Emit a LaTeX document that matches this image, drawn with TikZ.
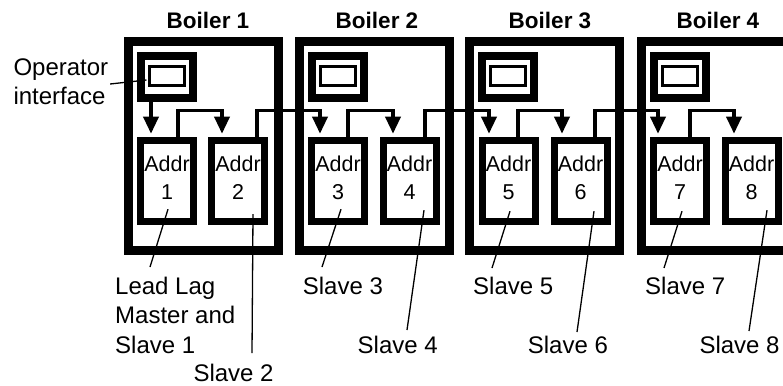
\documentclass[tikz,border=0pt]{standalone}
\usepackage{fontspec}
\setmainfont{Liberation Sans}
\usetikzlibrary{arrows.meta}
\begin{document}
\begin{tikzpicture}[x=1pt,y=-1pt,
  boiler/.style={draw, line width=9pt, minimum width=150pt, minimum height=208pt, inner sep=0pt},
  opbox/.style={draw, line width=8pt, minimum width=52pt, minimum height=42pt, inner sep=0pt},
  screen/.style={draw, line width=3pt, minimum width=35pt, minimum height=19pt, inner sep=0pt},
  addr/.style={draw, line width=7pt, minimum width=53pt, minimum height=81pt, inner sep=0pt},
  addrtxt/.style={font=\fontsize{21.5}{27.5}\selectfont, align=center, inner sep=0pt, anchor=center},
  title/.style={font=\fontsize{22.5}{27}\selectfont\bfseries, inner sep=0pt, anchor=base},
  lbl/.style={font=\fontsize{24}{29.5}\selectfont, align=left, inner sep=0pt, anchor=base west},
  conn/.style={line width=3.5pt, -{Triangle[length=17pt,width=15pt]}, shorten >=3.5pt},
  lead/.style={line width=1.3pt}
]
\useasboundingbox (0,0) rectangle (783,385);
\clip (0,0) rectangle (783,385);

% titles
\node[title] (t1) at (208,29) {Boiler 1};
\node[title] (t2) at (377,29) {Boiler 2};
\node[title] (t3) at (550,29) {Boiler 3};
\node[title] (t4) at (718,29) {Boiler 4};

% boilers
\node[boiler] (b1) at (203.5,146) {};
\node[boiler] (b2) at (374.5,146) {};
\node[boiler] (b3) at (544.5,146) {};
\node[boiler] (b4) at (716.5,146) {};

% operator boxes
\node[opbox] (o1) at (167,77) {};
\node[opbox] (o2) at (337.5,77) {};
\node[opbox] (o3) at (508,77) {};
\node[opbox] (o4) at (680,77) {};
\node[screen] (s1) at (167,76) {};
\node[screen] (s2) at (337.5,76) {};
\node[screen] (s3) at (508,76) {};
\node[screen] (s4) at (680,76) {};

% address boxes
\node[addr] (a1) at (167,181.2) {};
\node[addr] (a2) at (238,181.2) {};
\node[addr] (a3) at (338,181.2) {};
\node[addr] (a4) at (409.5,181.2) {};
\node[addr] (a5) at (508.5,181.2) {};
\node[addr] (a6) at (580.5,181.2) {};
\node[addr] (a7) at (680,181.2) {};
\node[addr] (a8) at (751.5,181.2) {};
\node[addrtxt] (n1) at ([yshift=3.6pt]a1.center) {Addr\\1};
\node[addrtxt] (n2) at ([yshift=3.6pt]a2.center) {Addr\\2};
\node[addrtxt] (n3) at ([yshift=3.6pt]a3.center) {Addr\\3};
\node[addrtxt] (n4) at ([yshift=3.6pt]a4.center) {Addr\\4};
\node[addrtxt] (n5) at ([yshift=3.6pt]a5.center) {Addr\\5};
\node[addrtxt] (n6) at ([yshift=3.6pt]a6.center) {Addr\\6};
\node[addrtxt] (n7) at ([yshift=3.6pt]a7.center) {Addr\\7};
\node[addrtxt] (n8) at ([yshift=3.6pt]a8.center) {Addr\\8};

% connectors
\draw[conn] ([xshift=-16pt]o1.south) -- ([xshift=-16pt]a1.north);
\draw[conn] ([xshift=11pt]a1.north) -- ++(0,-26.5) -| ([xshift=-16pt]a2.north);
\draw[conn] ([xshift=19pt]a2.north) -- ++(0,-26.5) -| ([xshift=-18pt]a3.north);
\draw[conn] ([xshift=10pt]a3.north) -- ++(0,-26.5) -| ([xshift=-16.5pt]a4.north);
\draw[conn] ([xshift=15.5pt]a4.north) -- ++(0,-26.5) -| ([xshift=-19.5pt]a5.north);
\draw[conn] ([xshift=9.5pt]a5.north) -- ++(0,-26.5) -| ([xshift=-18.5pt]a6.north);
\draw[conn] ([xshift=14.5pt]a6.north) -- ++(0,-26.5) -| ([xshift=-22pt]a7.north);
\draw[conn] ([xshift=10pt]a7.north) -- ++(0,-26.5) -| ([xshift=-17.5pt]a8.north);

% labels
\node[lbl, anchor=north west] (lop) at (13.3,58.5) {Operator\\interface};
\node[lbl, anchor=north west] (l1) at (115,276.8) {Lead Lag\\Master and\\Slave 1};
\node[lbl] (l2) at (193.3,381) {Slave 2};
\node[lbl] (l3) at (302.7,294) {Slave 3};
\node[lbl] (l4) at (357.5,353) {Slave 4};
\node[lbl] (l5) at (473,294) {Slave 5};
\node[lbl] (l6) at (527.7,353) {Slave 6};
\node[lbl] (l7) at (645,294) {Slave 7};
\node[lbl] (l8) at (699.3,353) {Slave 8};

% leader lines
\draw[lead] ([shift={(1.7,25.5)}]lop.north east) -- ([shift={(-1.5,4)}]s1.west);
\draw[lead] ([shift={(1,28)}]a1.center) -- ([shift={(35,-9.8)}]l1.north west);
\draw[lead] ([shift={(15,33)}]a2.center) -- ([shift={(58.7,-28)}]l2.base west);
\draw[lead] ([shift={(3,28)}]a3.center) -- ([shift={(19.3,-27)}]l3.base west);
\draw[lead] ([shift={(14.5,29)}]a4.center) -- ([shift={(49.5,-23)}]l4.base west);
\draw[lead] ([shift={(1.5,30)}]a5.center) -- ([shift={(19,-26)}]l5.base west);
\draw[lead] ([shift={(13.5,30)}]a6.center) -- ([shift={(49.3,-21)}]l6.base west);
\draw[lead] ([shift={(2,30)}]a7.center) -- ([shift={(19,-26)}]l7.base west);
\draw[lead] ([shift={(15.5,29)}]a8.center) -- ([shift={(49.7,-22)}]l8.base west);
\end{tikzpicture}
\end{document}
